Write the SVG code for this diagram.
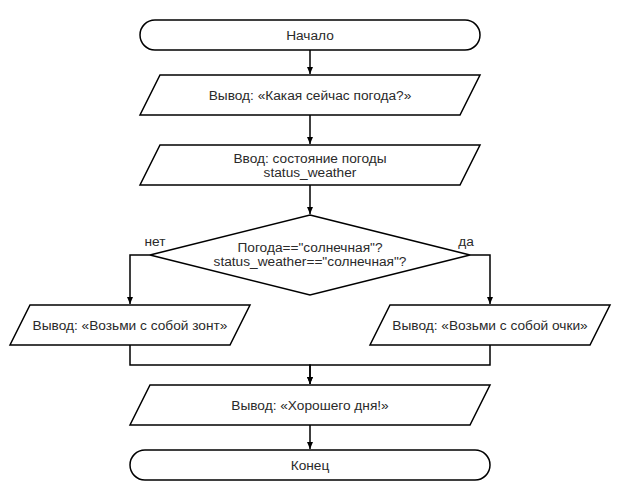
<svg xmlns="http://www.w3.org/2000/svg" width="620" height="500" viewBox="0 0 620 500">
<style>
.shape{fill:#fff;stroke:#000;stroke-width:1.5}
.edge{fill:none;stroke:#000;stroke-width:1.5}
text{font-family:"Liberation Sans",Arial,sans-serif;font-size:13.7px;fill:#2a2a2a;text-anchor:middle;dominant-baseline:central}
</style>
<defs>
<marker id="arr" markerWidth="8" markerHeight="8" refX="7" refY="4" orient="auto" markerUnits="userSpaceOnUse">
<path d="M0,1 L7,4 L0,7 Z" fill="#000"/>
</marker>
</defs>
<rect width="620" height="500" fill="#fff"/>
<g id="connectors">
<path class="edge" d="M310,50 V74" marker-end="url(#arr)"/>
<path class="edge" d="M310,115 V144" marker-end="url(#arr)"/>
<path class="edge" d="M310,185 V214" marker-end="url(#arr)"/>
<path class="edge" d="M150,255 H130 V304" marker-end="url(#arr)"/>
<path class="edge" d="M470,255 H490 V304" marker-end="url(#arr)"/>
<path class="edge" d="M130,345 V365 H310 V384" marker-end="url(#arr)"/>
<path class="edge" d="M490,345 V365 H310 V384" marker-end="url(#arr)"/>
<path class="edge" d="M310,425 V449" marker-end="url(#arr)"/>
<text x="155" y="241">нет</text>
<text x="466" y="241">да</text>
</g>
<g id="start">
<rect class="shape" x="140" y="20" width="340" height="30" rx="15" ry="15"/>
<text x="310" y="35">Начало</text>
</g>
<g id="out1">
<polygon class="shape" points="160,75 480,75 460,115 140,115"/>
<text x="310" y="95">Вывод: «Какая сейчас погода?»</text>
</g>
<g id="in1">
<polygon class="shape" points="160,145 480,145 460,185 140,185"/>
<text x="310" y="158">Ввод: состояние погоды</text>
<text x="310" y="172">status_weather</text>
</g>
<g id="decision">
<polygon class="shape" points="310,215 470,255 310,295 150,255"/>
<text x="310" y="247">Погода=="солнечная"?</text>
<text x="310" y="261">status_weather=="солнечная"?</text>
</g>
<g id="outNo">
<polygon class="shape" points="30,305 250,305 230,345 10,345"/>
<text x="130" y="325">Вывод: «Возьми с собой зонт»</text>
</g>
<g id="outYes">
<polygon class="shape" points="390,305 610,305 590,345 370,345"/>
<text x="490" y="325">Вывод: «Возьми с собой очки»</text>
</g>
<g id="out2">
<polygon class="shape" points="150,385 490,385 470,425 130,425"/>
<text x="310" y="405">Вывод: «Хорошего дня!»</text>
</g>
<g id="end">
<rect class="shape" x="130" y="450" width="360" height="30" rx="15" ry="15"/>
<text x="310" y="465">Конец</text>
</g>
</svg>
